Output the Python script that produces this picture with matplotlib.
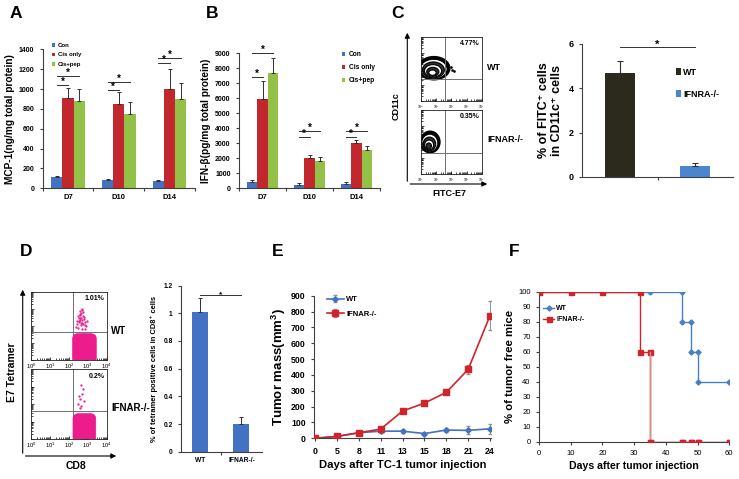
import matplotlib
matplotlib.use('Agg')
import matplotlib.pyplot as plt
import numpy as np
from matplotlib.patches import Ellipse, FancyBboxPatch, FancyArrowPatch

plt.rcParams['font.family'] = ['Liberation Sans', 'DejaVu Sans']
plt.rcParams['font.weight'] = 'bold'
plt.rcParams['axes.labelweight'] = 'bold'
plt.rcParams['mathtext.default'] = 'regular'

# ---------------- data ----------------
groups = ['D7', 'D10', 'D14']
series_names = ['Con', 'Cis only', 'Cis+pep']
mcp_con = [110, 80, 70]
mcp_cis = [906, 849, 997]
mcp_pep = [880, 749, 896]
mcp_con_err = [12, 10, 10]
mcp_cis_err = [108, 118, 202]
mcp_pep_err = [117, 121, 162]
mcp_sig_short = [1041, 990, 1259]
mcp_sig_long = [1131, 1074, 1309]

ifn_con = [444, 200, 289]
ifn_cis = [5933, 2000, 3000]
ifn_pep = [7667, 1844, 2555]
ifn_con_err = [111, 133, 111]
ifn_cis_err = [1222, 222, 222]
ifn_pep_err = [1044, 222, 267]
ifn_sig_short = [7444, 3400, 3400]
ifn_sig_long = [9000, 3844, 3844]

c_labels = ['WT', 'IFNRA-/-']
c_vals = [4.7, 0.5]
c_err = [0.55, 0.15]
c_pcts = ['4.77%', '0.35%']

d_labels = ['WT', 'IFNAR-/-']
d_vals = [1.01, 0.2]
d_err = [0.1, 0.05]
d_pcts = ['1.01%', '0.2%']
d_wt_dots_x = [2.45, 2.55, 2.6, 2.7, 2.75, 2.8, 2.5, 2.65, 2.9, 2.58, 2.68, 2.72, 2.62,
                2.52, 2.85, 2.4, 2.78, 2.66, 2.57, 2.74, 2.95, 2.48, 2.6, 2.7, 2.83,
                2.53, 2.63, 2.77, 2.69, 2.59, 2.87, 2.44]
d_wt_dots_y = [2.1, 2.3, 2.5, 2.2, 2.6, 2.4, 1.9, 2.75, 2.0, 2.65, 2.35, 1.85, 2.05,
                2.45, 2.25, 1.95, 2.55, 2.15, 2.7, 2.8, 2.3, 2.6, 2.9, 3.0, 1.8,
                2.25, 2.5, 2.1, 2.95, 2.35, 2.05, 2.3]
d_ko_dots_x = [2.5, 2.6, 2.7, 2.55, 2.65, 2.8, 2.75, 2.62, 2.58]
d_ko_dots_y = [2.0, 2.3, 2.6, 2.45, 1.9, 2.2, 2.85, 3.1, 1.75]

e_days = ['0', '5', '8', '11', '13', '15', '18', '21', '24']
e_wt = [0, 12, 35, 45, 45, 30, 52, 50, 60]
e_wt_err = [0, 5, 8, 10, 10, 5, 15, 25, 30]
e_ko = [0, 12, 35, 58, 172, 222, 290, 435, 775]
e_ko_err = [0, 5, 5, 8, 15, 8, 10, 30, 90]

f_wt_x = [0, 35, 45, 45, 48, 48, 50, 50, 60]
f_wt_y = [100, 100, 100, 80, 80, 60, 60, 40, 40]
f_ko_x = [0, 10, 20, 32, 32, 35, 35, 45, 48, 50, 60]
f_ko_y = [100, 100, 100, 100, 60, 60, 0, 0, 0, 0, 0]

BLUE = '#4372c4'
RED = '#c1272d'
GREEN = '#93c047'
AXC = '#404040'

W, H = 739, 479
fig = plt.figure(figsize=(W / 100, H / 100), dpi=100)


def px_axes(l, t, r, b):
    return fig.add_axes([l / W, 1 - b / H, (r - l) / W, (b - t) / H])


def fx(x):
    return x / W


def fy(y):
    return 1 - y / H


def excel_style(ax, lw=0.8):
    for s in ['top', 'right']:
        ax.spines[s].set_visible(False)
    for s in ['left', 'bottom']:
        ax.spines[s].set_color(AXC)
        ax.spines[s].set_linewidth(lw)
    ax.tick_params(colors=AXC, labelcolor='black', width=lw, length=2.5, direction='out')


def grouped_bars(ax, vals_list, errs_list, colors, w=0.22):
    x = np.arange(len(groups))
    conts = []
    for i, (v, e, c) in enumerate(zip(vals_list, errs_list, colors)):
        b = ax.bar(x + (i - 1) * w, v, w, color=c, yerr=[np.zeros(len(e)), e],
                   error_kw=dict(ecolor='#303030', elinewidth=0.7, capsize=1.5, capthick=0.7))
        conts.append(b)
    ax.set_xlim(-0.5, 2.5)
    ax.set_xticks([-0.5, 0.5, 1.5, 2.5])
    ax.set_xticklabels([])
    ax.set_xticks(x, minor=True)
    ax.set_xticklabels(groups, minor=True, fontsize=5.5)
    ax.tick_params(axis='x', which='minor', length=0, pad=4)
    return conts


def sig(ax, x0, x1, y, fs=7, dy=0.0):
    ax.plot([x0, x1], [y, y], color='#303030', lw=0.7, clip_on=False)
    ax.text((x0 + x1) / 2, y + dy, '*', ha='center', va='bottom', fontsize=fs, clip_on=False)


# ---------------- Panel A ----------------
axA = px_axes(42.7, 49.3, 195, 188.3)
excel_style(axA)
conts = grouped_bars(axA, [mcp_con, mcp_cis, mcp_pep], [mcp_con_err, mcp_cis_err, mcp_pep_err],
                     [BLUE, RED, GREEN])
axA.set_ylim(0, 1400)
axA.set_yticks(range(0, 1401, 200))
axA.tick_params(axis='y', labelsize=5)
axA.set_ylabel('MCP-1(ng/mg total protein)', fontsize=7.3, labelpad=3)
for g in range(3):
    sig(axA, g - 0.22, g, mcp_sig_short[g], dy=-20)
    sig(axA, g - 0.22, g + 0.22, mcp_sig_long[g], dy=-20)
axA.legend(conts, series_names, loc='upper left', bbox_to_anchor=(fx(52), fy(43)),
           bbox_transform=fig.transFigure, frameon=False, fontsize=4.3,
           handlelength=0.5, handleheight=0.5, handletextpad=0.5, labelspacing=0.75,
           borderaxespad=0, borderpad=0)
fig.text(fx(16), fy(13), 'A', fontsize=12.5, ha='center', va='center')

# ---------------- Panel B ----------------
axB = px_axes(239, 53.3, 380, 188.3)
excel_style(axB)
conts = grouped_bars(axB, [ifn_con, ifn_cis, ifn_pep], [ifn_con_err, ifn_cis_err, ifn_pep_err],
                     [BLUE, RED, GREEN])
axB.set_ylim(0, 9000)
axB.set_yticks(range(0, 9001, 1000))
axB.tick_params(axis='y', labelsize=5)
axB.set_ylabel('IFN-β(pg/mg total protein)', fontsize=7.3, labelpad=3)
for g in range(3):
    sig(axB, g - 0.22, g, ifn_sig_short[g], dy=-130)
    sig(axB, g - 0.22, g + 0.22, ifn_sig_long[g], dy=-130)
axB.legend(conts, series_names, loc='upper left', bbox_to_anchor=(fx(342), fy(51)),
           bbox_transform=fig.transFigure, frameon=False, fontsize=4.8,
           handlelength=0.5, handleheight=0.5, handletextpad=0.5, labelspacing=0.9,
           borderaxespad=0, borderpad=0)
fig.text(fx(212), fy(13), 'B', fontsize=12.5, ha='center', va='center')

# ---------------- Panel C flow ----------------
fig.text(fx(397), fy(13), 'C', fontsize=12.5, ha='center', va='center')


def flow_box(ax, qx, qy, tick_fs, labels=True):
    ax.set_xlim(0, 4)
    ax.set_ylim(0, 4)
    for s in ax.spines.values():
        s.set_linewidth(0.6)
        s.set_color('#202020')
    ax.axvline(qx, color='#707070', lw=0.7)
    ax.axhline(qy, color='#707070', lw=0.7)
    ax.set_xticks(range(5))
    ax.set_yticks(range(5))
    minor = [k + np.log10(m) for k in range(4) for m in range(2, 10)]
    ax.set_xticks(minor, minor=True)
    ax.set_yticks(minor, minor=True)
    ax.tick_params(which='both', direction='in', top=False, right=False, width=0.5)
    ax.tick_params(which='major', length=2.5)
    ax.tick_params(which='minor', length=1.2)
    if labels:
        ax.set_xticklabels([r'$10^{%d}$' % k for k in range(5)], fontsize=tick_fs,
                           fontweight='normal')
    else:
        ax.set_xticklabels([])
    ax.set_yticklabels([])
    ax.tick_params(axis='x', pad=1.5)


cTop = px_axes(421, 37, 481.7, 101)
flow_box(cTop, 1.58, 1.35, 2.5)
cBot = px_axes(421, 110, 481.7, 174)
flow_box(cBot, 1.58, 1.29, 2.5)

# contour-like blobs (decorative)
for ax, cx, cy, w0, h0, n in [(cTop, 0.85, 2.05, 2.1, 1.45, 6), (cBot, 0.6, 2.0, 1.3, 1.35, 5)]:
    ax.add_patch(Ellipse((cx, cy), w0, h0, facecolor='black', edgecolor='black', lw=1.0))
    for k in range(1, n):
        f = 1 - k / (n + 0.5)
        ax.add_patch(Ellipse((cx - (1 - f) * 0.12, cy - (1 - f) * h0 * 0.25), w0 * f, h0 * f,
                             facecolor='white' if k % 2 else '#303030', edgecolor='black', lw=0.8))
cTop.scatter([1.95, 2.05, 2.15], [2.1, 1.95, 1.85], s=0.8, color='black')
cTop.text(0.97, 0.95, c_pcts[0], transform=cTop.transAxes, ha='right', va='top', fontsize=5)
cBot.text(0.97, 0.95, c_pcts[1], transform=cBot.transAxes, ha='right', va='top', fontsize=5)

fig.add_artist(FancyArrowPatch((fx(407.3), fy(184)), (fx(407.3), fy(30)), transform=fig.transFigure,
                               arrowstyle='-|>,head_length=3,head_width=1.5', lw=0.8, color='black'))
fig.add_artist(FancyArrowPatch((fx(407.3), fy(184)), (fx(490), fy(184)), transform=fig.transFigure,
                               arrowstyle='-|>,head_length=3,head_width=1.5', lw=0.8, color='black'))
fig.text(fx(396), fy(106), 'CD11c', rotation=90, fontsize=6.5, ha='center', va='center')
fig.text(fx(449), fy(193), 'FITC-E7', fontsize=6.5, ha='center', va='center')
fig.text(fx(487), fy(67), 'WT', fontsize=6.5, ha='left', va='center')
fig.text(fx(487), fy(140), 'IFNAR-/-', fontsize=6.5, ha='left', va='center')

# ---------------- Panel C bar ----------------
axC = px_axes(582, 44, 733, 177)
excel_style(axC)
cb = axC.bar([0, 1], c_vals, 0.4, color=['#2b2a1c', '#4a86cf'],
             yerr=[[0, 0], c_err], error_kw=dict(ecolor='#303030', elinewidth=0.8, capsize=2, capthick=0.8))
axC.set_xlim(-0.5, 1.5)
axC.set_ylim(0, 6)
axC.set_yticks([0, 2, 4, 6])
axC.set_xticks([0.5])
axC.set_xticklabels([])
axC.tick_params(axis='y', labelsize=6.5)
axC.set_ylabel('% of FITC⁺ cells\nin CD11c⁺ cells', fontsize=9, labelpad=4, linespacing=1.1)
sig(axC, 0, 1, 5.85, fs=8, dy=-0.1)
axC.legend(cb.patches, c_labels, loc='upper left', bbox_to_anchor=(fx(676), fy(68)),
           bbox_transform=fig.transFigure, frameon=False, fontsize=6.5,
           handlelength=0.6, handleheight=0.8, handletextpad=0.2, labelspacing=1.4,
           borderaxespad=0, borderpad=0)

# ---------------- Panel D flow ----------------
fig.text(fx(26), fy(251), 'D', fontsize=12.5, ha='center', va='center')
PINK = '#ec1c8c'
dTop = px_axes(31, 292, 106.7, 360)
flow_box(dTop, 2.2, 1.62, 4.2)
dBot = px_axes(31, 369, 106.7, 439)
flow_box(dBot, 2.2, 1.6, 4.2)
dTop.add_patch(FancyBboxPatch((2.2, -0.2), 1.25, 1.75, boxstyle='round,pad=0,rounding_size=0.3',
                              facecolor=PINK, edgecolor=PINK, lw=0.5, zorder=3))
dBot.add_patch(FancyBboxPatch((2.22, -0.2), 1.2, 1.65, boxstyle='round,pad=0,rounding_size=0.3',
                              facecolor=PINK, edgecolor=PINK, lw=0.5, zorder=3))
dTop.scatter(d_wt_dots_x, d_wt_dots_y, s=0.4, color=PINK, zorder=3)
dBot.scatter(d_ko_dots_x, d_ko_dots_y, s=0.4, color=PINK, zorder=3)
dTop.text(0.97, 0.95, d_pcts[0], transform=dTop.transAxes, ha='right', va='top', fontsize=5)
dBot.text(0.97, 0.95, d_pcts[1], transform=dBot.transAxes, ha='right', va='top', fontsize=5)
fig.add_artist(FancyArrowPatch((fx(22.7), fy(456)), (fx(22.7), fy(287)), transform=fig.transFigure,
                               arrowstyle='-|>,head_length=3,head_width=1.5', lw=0.8, color='black'))
fig.add_artist(FancyArrowPatch((fx(22.7), fy(456)), (fx(119), fy(456)), transform=fig.transFigure,
                               arrowstyle='-|>,head_length=3,head_width=1.5', lw=0.8, color='black'))
fig.text(fx(12.5), fy(372), 'E7 Tetramer', rotation=90, fontsize=7.5, ha='center', va='center')
fig.text(fx(76), fy(466), 'CD8', fontsize=7.5, ha='center', va='center')
fig.text(fx(111), fy(331), 'WT', fontsize=7, ha='left', va='center')
fig.text(fx(111), fy(408), 'IFNAR-/-', fontsize=7, ha='left', va='center')

# ---------------- Panel D bar ----------------
axD = px_axes(181, 285.6, 262, 451.7)
excel_style(axD)
axD.bar([0, 1], d_vals, 0.39, color=BLUE,
        yerr=[[0, 0], d_err], error_kw=dict(ecolor='#303030', elinewidth=0.7, capsize=1.5, capthick=0.7))
axD.set_xlim(-0.47, 1.5)
axD.set_ylim(0, 1.2)
axD.set_yticks([0, 0.2, 0.4, 0.6, 0.8, 1.0, 1.2])
axD.set_yticklabels(['0', '0.2', '0.4', '0.6', '0.8', '1', '1.2'])
axD.set_xticks([0.5])
axD.set_xticklabels([])
axD.set_xticks([0, 1], minor=True)
axD.set_xticklabels(d_labels, minor=True, fontsize=4.8)
axD.tick_params(axis='x', which='minor', length=0, pad=4)
axD.tick_params(axis='y', labelsize=4.8)
axD.set_ylabel('% of tetramer positive cells in CD8⁺ cells', fontsize=5.4, labelpad=4)
sig(axD, 0, 1, 1.13, fs=6, dy=-0.02)

# ---------------- Panel E ----------------
fig.text(fx(278), fy(251), 'E', fontsize=12.5, ha='center', va='center')
axE = px_axes(314, 295.7, 490.7, 438.3)
excel_style(axE)
xi = np.arange(len(e_days))
axE.errorbar(xi, e_wt, yerr=e_wt_err, color=BLUE, marker='D', markersize=2.8, lw=1.2,
             ecolor='#909090', elinewidth=0.7, capsize=1.5, label='WT', zorder=3)
axE.errorbar(xi, e_ko, yerr=e_ko_err, color='#d2232a', marker='s', markersize=4, lw=1.2,
             ecolor='#909090', elinewidth=0.7, capsize=1.5, label='IFNAR-/-', zorder=4)
axE.set_xlim(-0.05, 8.03)
axE.set_ylim(0, 900)
axE.set_yticks(range(0, 901, 100))
axE.set_xticks(xi)
axE.set_xticklabels(e_days)
axE.tick_params(labelsize=6.3)
axE.set_ylabel('Tumor mass(mm$^{3}$)', fontsize=9.5, labelpad=2)
axE.set_xlabel('Days after TC-1 tumor injection', fontsize=8.1, labelpad=3)
axE.legend(loc='upper left', bbox_to_anchor=(fx(327), fy(296)), bbox_transform=fig.transFigure,
           frameon=False, fontsize=5.5, handlelength=2.2, handletextpad=0.3, labelspacing=0.9,
           borderaxespad=0, borderpad=0)

# ---------------- Panel F ----------------
fig.text(fx(514), fy(251), 'F', fontsize=12.5, ha='center', va='center')
axF = px_axes(539, 291.7, 729.3, 441.7)
excel_style(axF)
axF.plot(f_wt_x, f_wt_y, color='#4a7fc8', marker='D', markersize=2.6, lw=1.0, label='WT', zorder=3)
axF.plot(f_ko_x, f_ko_y, color='#d2232a', marker='s', markersize=3.6, lw=1.0, label='IFNAR-/-', zorder=4)
axF.plot(f_ko_x[5:], f_ko_y[5:], color='#d98c8c', lw=1.0, zorder=4)
axF.plot(f_ko_x[6:], f_ko_y[6:], color='#d2232a', marker='s', markersize=3.6, lw=0, zorder=5)
axF.set_xlim(0, 60)
axF.set_ylim(0, 100)
axF.set_xticks(range(0, 61, 10))
axF.set_yticks(range(0, 101, 10))
axF.tick_params(labelsize=5.5)
for t in axF.get_xticklabels() + axF.get_yticklabels():
    t.set_fontweight('normal')
axF.set_ylabel('% of tumor free mice', fontsize=8.2, labelpad=2)
axF.set_xlabel('Days after tumor injection', fontsize=7.6, labelpad=3)
axF.legend(loc='upper left', bbox_to_anchor=(fx(543), fy(305)), bbox_transform=fig.transFigure,
           frameon=False, fontsize=5, handlelength=1.6, handletextpad=0.3, labelspacing=0.6,
           borderaxespad=0, borderpad=0)

fig.savefig('out.png', dpi=100)
